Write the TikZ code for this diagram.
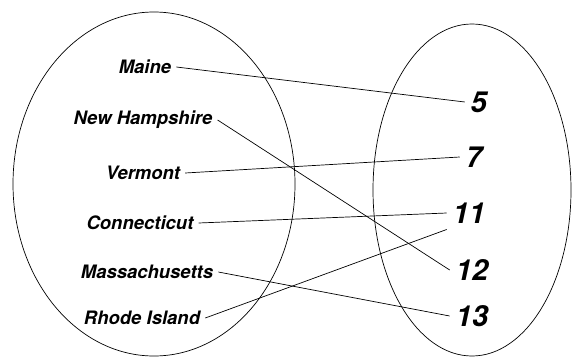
\documentclass[tikz,border=0pt]{standalone}
\usepackage{fontspec}
\setmainfont{TeX Gyre Heros}
\usepackage{tikz}
\usetikzlibrary{positioning}

\begin{document}
\begin{tikzpicture}[
        x=1pt, y=-1pt,
        state/.style={font=\fontsize{18.5}{18.5}\selectfont\bfseries\itshape, inner sep=5pt},
        num/.style={font=\fontsize{29}{29}\selectfont\bfseries\itshape, inner sep=6pt},
        link/.style={line width=0.7pt, black}
    ]
        \useasboundingbox (0,0) rectangle (572,356);

        % the two sets
        \draw[line width=0.7pt] (154,184) ellipse [x radius=141, y radius=172];
        \draw[line width=0.7pt] (472,190) ellipse [x radius=99, y radius=166];

        % states
        \node[state] (maine) at (145,67) {Maine};
        \node[state] (nh) at (143,120) {New Hampshire};
        \node[state] (vt) at (143,173) {Vermont};
        \node[state] (ct) at (140,223) {Connecticut};
        \node[state] (ma) at (147,272) {Massachusetts};
        \node[state] (ri) at (142,318) {Rhode Island};

        % numbers
        \node[num] (n5) at (479,102) {5};
        \node[num] (n7) at (474,157) {7};
        \node[num] (n11) at (469,213) {11};
        \node[num] (n12) at (472,270) {12};
        \node[num] (n13) at (472,316) {13};

        % mapping
        \draw[link] (maine.east) -- (n5.west);
        \draw[link] (nh.east) -- (n12.west);
        \draw[link] (vt.east) -- (n7.west);
        \draw[link] (ct.east) -- (n11.west);
        \draw[link] (ma.east) -- (n13.west);
        \draw[link] (ri.east) -- (n11.south west);
    \end{tikzpicture}
\end{document}
